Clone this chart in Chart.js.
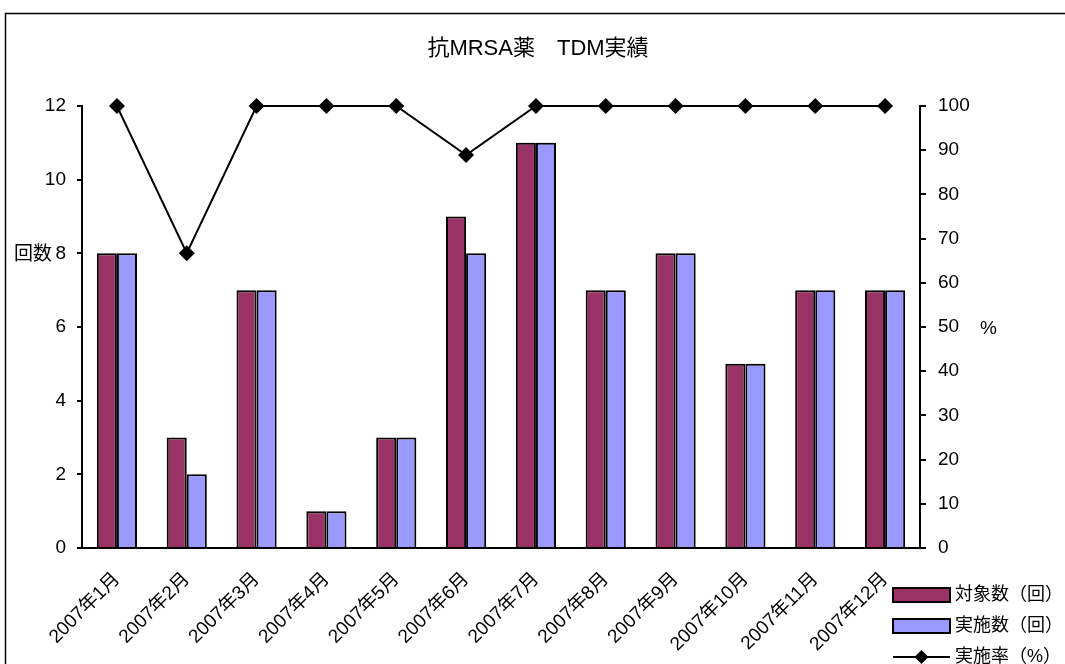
<!DOCTYPE html>
<html lang="ja">
<head>
<meta charset="utf-8">
<title>抗MRSA薬 TDM実績</title>
<script src="https://cdn.jsdelivr.net/npm/chart.js@4.4.1/dist/chart.umd.min.js"></script>
<style>
  html, body { margin: 0; padding: 0; background: #fff; overflow: hidden; }
  #wrap { position: relative; width: 1080px; height: 664px; }
</style>
</head>
<body>
<div id="wrap"><canvas id="c" width="1080" height="664"></canvas></div>
<script>
// Monthly TDM records for anti-MRSA drugs, 2007
const months = ['2007年1月','2007年2月','2007年3月','2007年4月','2007年5月','2007年6月',
                '2007年7月','2007年8月','2007年9月','2007年10月','2007年11月','2007年12月'];
const targetCounts = [8, 3, 7, 1, 3, 9, 11, 7, 8, 5, 7, 7];      // 対象数（回）
const performedCounts = [8, 2, 7, 1, 3, 8, 11, 7, 8, 5, 7, 7];   // 実施数（回）
const performedRate = [100, 66.7, 100, 100, 100, 88.9, 100, 100, 100, 100, 100, 100]; // 実施率（%）
const countTicks = [0, 2, 4, 6, 8, 10, 12];
const rateTicks = [0, 10, 20, 30, 40, 50, 60, 70, 80, 90, 100];

const FONT = '"Liberation Sans", "Noto Sans CJK JP", sans-serif';
Chart.defaults.font.family = FONT;
Chart.defaults.font.size = 19;
Chart.defaults.color = '#000';

// Frame, title, axis captions and legend drawn on the canvas
const decorations = {
  id: 'decorations',
  beforeDraw(chart) {
    const ctx = chart.ctx;
    ctx.save();
    ctx.fillStyle = '#fff';
    ctx.fillRect(0, 0, chart.width, chart.height);
    ctx.strokeStyle = '#000';
    ctx.lineWidth = 1.5;
    ctx.strokeRect(5.5, 13.5, 1100, 700);
    ctx.restore();
  },
  afterDraw(chart) {
    const ctx = chart.ctx;
    ctx.save();
    ctx.fillStyle = '#000';
    ctx.textBaseline = 'middle';

    ctx.font = '22px ' + FONT;
    ctx.textAlign = 'center';
    ctx.fillText('抗MRSA薬　TDM実績', 538, 49);

    ctx.font = '19px ' + FONT;
    ctx.textAlign = 'left';
    ctx.fillText('回数', 14, 255);
    ctx.fillText('%', 980, 329);

    // legend
    const x0 = 893, x1 = 950, tx = 955;
    const rows = [595, 626, 657];
    ctx.font = '18px ' + FONT;
    chart.data.datasets.forEach((ds, i) => {
      const y = rows[i];
      if (ds.type === 'line') {
        ctx.strokeStyle = '#000';
        ctx.lineWidth = 2;
        ctx.beginPath();
        ctx.moveTo(x0, y); ctx.lineTo(x1, y);
        ctx.stroke();
        const r = 7, cx = (x0 + x1) / 2;
        ctx.beginPath();
        ctx.moveTo(cx, y - r); ctx.lineTo(cx + r, y); ctx.lineTo(cx, y + r); ctx.lineTo(cx - r, y);
        ctx.closePath();
        ctx.fill();
      } else {
        ctx.fillStyle = ds.backgroundColor;
        ctx.fillRect(x0, y - 7, x1 - x0, 14);
        ctx.strokeStyle = '#000';
        ctx.lineWidth = 2;
        ctx.strokeRect(x0, y - 7, x1 - x0, 14);
      }
      ctx.fillStyle = '#000';
      ctx.fillText(ds.label, tx, y);
    });
    ctx.restore();
  }
};

new Chart(document.getElementById('c'), {
  data: {
    labels: months,
    datasets: [
      {
        type: 'bar', label: '対象数（回）', data: targetCounts, yAxisID: 'y',
        backgroundColor: '#993366', borderColor: '#000', borderWidth: 2,
        categoryPercentage: 0.575, barPercentage: 1, order: 2
      },
      {
        type: 'bar', label: '実施数（回）', data: performedCounts, yAxisID: 'y',
        backgroundColor: '#9999FF', borderColor: '#000', borderWidth: 2,
        categoryPercentage: 0.575, barPercentage: 1, order: 2
      },
      {
        type: 'line', label: '実施率（%）', data: performedRate, yAxisID: 'y1',
        borderColor: '#000', borderWidth: 2, backgroundColor: '#000',
        pointStyle: 'rectRot', pointRadius: 8, pointBackgroundColor: '#000',
        pointBorderWidth: 0, tension: 0, fill: false, order: 1, clip: false
      }
    ]
  },
  options: {
    responsive: false,
    animation: false,
    devicePixelRatio: 1,
    layout: { padding: { top: 106, left: 0, right: 0, bottom: 0 } },
    plugins: { legend: { display: false }, title: { display: false }, tooltip: { enabled: false } },
    scales: {
      x: {
        offset: true,
        grid: { display: true, drawOnChartArea: false, drawTicks: false, color: 'rgba(0,0,0,0)' },
        border: { display: true, color: '#000', width: 2 },
        ticks: { minRotation: 45, maxRotation: 45, autoSkip: false, padding: 20, font: { size: 19 } },
        afterFit(s) { s.height = 116; }
      },
      y: {
        position: 'left', min: 0, max: 12,
        afterBuildTicks(s) { s.ticks = countTicks.map(v => ({ value: v })); },
        grid: { drawOnChartArea: false, drawTicks: true, tickLength: 5, color: '#000', lineWidth: 2 },
        border: { display: true, color: '#000', width: 2 },
        ticks: { padding: 11 },
        afterFit(s) { s.width = 82; }
      },
      y1: {
        position: 'right', min: 0, max: 100,
        afterBuildTicks(s) { s.ticks = rateTicks.map(v => ({ value: v })); },
        grid: { drawOnChartArea: false, drawTicks: true, tickLength: 6, color: '#000', lineWidth: 2 },
        border: { display: true, color: '#000', width: 2 },
        ticks: { padding: 12 },
        afterFit(s) { s.width = 160; }
      }
    }
  },
  plugins: [decorations]
});
</script>
</body>
</html>
